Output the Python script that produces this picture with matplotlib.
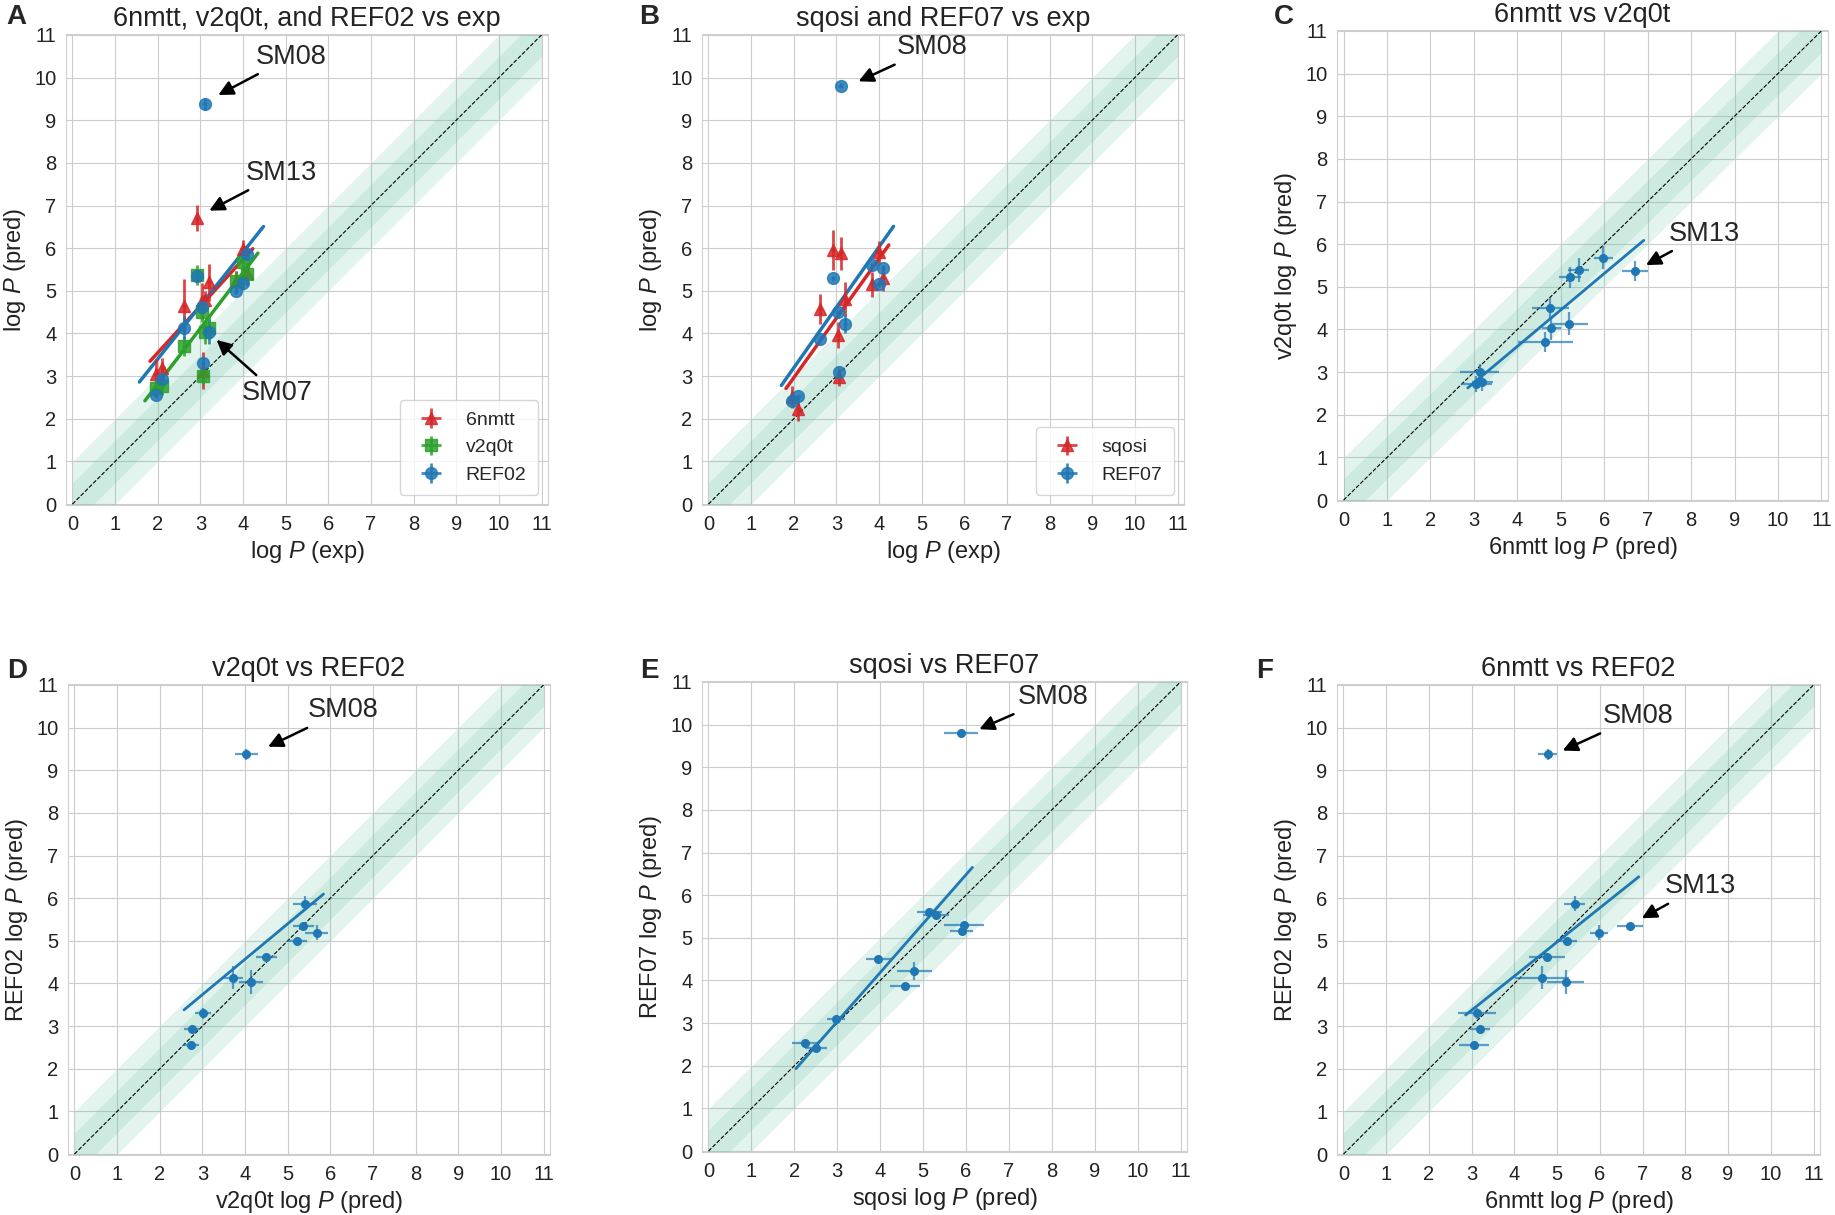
import numpy as np
import matplotlib.pyplot as plt
import seaborn as sns

sns.set_style('whitegrid')
plt.rcParams['font.family'] = ['Liberation Sans', 'DejaVu Sans']
plt.rcParams['mathtext.fontset'] = 'custom'
plt.rcParams['mathtext.rm'] = 'Liberation Sans'
plt.rcParams['mathtext.it'] = 'Liberation Sans:italic'

# 11 compounds, sorted by experimental log P
exp_logp = [1.95, 2.11, 2.62, 2.92, 3.03, 3.07, 3.10, 3.21, 3.84, 3.99, 4.10]
exp_err = [0.05, 0.05, 0.05, 0.05, 0.05, 0.05, 0.05, 0.05, 0.05, 0.05, 0.05]

nmtt = [3.06, 3.19, 4.64, 6.71, 4.76, 3.13, 4.78, 5.20, 5.22, 5.98, 5.41]
nmtt_err = [0.35, 0.24, 0.63, 0.30, 0.42, 0.44, 0.22, 0.43, 0.25, 0.22, 0.25]
v2q0t = [2.73, 2.76, 3.71, 5.37, 4.50, 3.01, 4.03, 4.14, 5.22, 5.68, 5.40]
v2q0t_err = [0.19, 0.19, 0.24, 0.24, 0.24, 0.19, 0.27, 0.27, 0.24, 0.27, 0.28]
ref02 = [2.56, 2.94, 4.14, 5.34, 4.63, 3.30, 9.37, 4.04, 4.99, 5.19, 5.87]
ref02_err = [0.08, 0.06, 0.28, 0.06, 0.06, 0.13, 0.12, 0.28, 0.06, 0.18, 0.18]
sqosi = [2.51, 2.24, 4.58, 5.95, 3.96, 2.98, 5.88, 4.80, 5.15, 5.90, 5.30]
sqosi_err = [0.25, 0.29, 0.35, 0.47, 0.30, 0.21, 0.39, 0.40, 0.29, 0.27, 0.30]
ref07 = [2.42, 2.53, 3.88, 5.29, 4.51, 3.10, 9.81, 4.22, 5.60, 5.15, 5.54]
ref07_err = [0.05, 0.05, 0.05, 0.05, 0.05, 0.05, 0.05, 0.21, 0.05, 0.05, 0.05]

RED, GREEN, BLUE = '#d62728', '#2ca02c', '#1f77b4'
BAND = '#66c2a5'
W, H = 1835, 1215

fig = plt.figure(figsize=(W / 100, H / 100), dpi=100)


def make_ax(left, top, w=482, h=471):
    return fig.add_axes([left / W, 1 - (top + h) / H, w / W, h / H])


def base(ax, title, xlabel, ylabel):
    d = np.array([0, 11])
    ax.fill_between(d, d - 1, d + 1, color=BAND, alpha=0.18, lw=0, zorder=1)
    ax.fill_between(d, d - 0.5, d + 0.5, color=BAND, alpha=0.18, lw=0, zorder=1)
    ax.plot(d, d, color='black', ls='--', lw=0.8, zorder=2)
    ax.set_xlim(-0.15, 11.15)
    ax.set_ylim(-0.02, 11.02)
    ax.set_xticks(range(12))
    ax.set_yticks(range(12))
    ax.tick_params(labelsize=14.5, colors='#222222')
    ax.set_title(title, fontsize=19.5, color='#222222')
    ax.set_xlabel(xlabel, fontsize=17, color='#222222')
    ax.set_ylabel(ylabel, fontsize=17, color='#222222')
    for s in ax.spines.values():
        s.set_color('#d0d0d0')


def fit_line(ax, x, y, color, pad, lw=2.5):
    slope, icpt = np.polyfit(x, y, 1)
    xx = np.array([min(x) - pad, max(x) + pad])
    ax.plot(xx, slope * xx + icpt, color=color, lw=lw, zorder=3)


def mark(ax, text, tip, txt):
    ax.annotate(text, xy=tip, xytext=txt, fontsize=19.5, ha='center', va='center',
                arrowprops=dict(arrowstyle='-|>', color='black', lw=1.8,
                                mutation_scale=22, shrinkA=2, shrinkB=0), zorder=6)


def vs_exp(ax, y, yerr, color, marker, label):
    ax.errorbar(exp_logp, y, xerr=exp_err, yerr=yerr, fmt=marker, color=color,
                ms=8.5, elinewidth=2, capsize=0, alpha=0.85, label=label, zorder=4)


def pair(ax, x, xerr, y, yerr, pad):
    eb = ax.errorbar(x, y, xerr=xerr, yerr=yerr, fmt='o', color=BLUE, ms=5.5,
                     elinewidth=1.6, capsize=0, zorder=4)
    for c in eb[2]:
        c.set_alpha(0.7)
    fit_line(ax, x, y, BLUE, pad, lw=2)


lbl_exp = r'log $P$ (exp)'
lbl_pred = r'log $P$ (pred)'

# A
ax = make_ax(66, 34)
base(ax, '6nmtt, v2q0t, and REF02 vs exp', lbl_exp, lbl_pred)
vs_exp(ax, nmtt, nmtt_err, RED, '^', '6nmtt')
vs_exp(ax, v2q0t, v2q0t_err, GREEN, 's', 'v2q0t')
vs_exp(ax, ref02, ref02_err, BLUE, 'o', 'REF02')
fit_line(ax, exp_logp, nmtt, RED, 0.13)
fit_line(ax, exp_logp, v2q0t, GREEN, 0.25)
fit_line(ax, exp_logp, ref02, BLUE, 0.38)
mark(ax, 'SM08', (3.42, 9.59), (5.13, 10.49))
mark(ax, 'SM13', (3.21, 6.88), (4.91, 7.77))
mark(ax, 'SM07', (3.38, 3.85), (4.79, 2.60))
ax.legend(loc='lower right', fontsize=14, frameon=True, borderpad=0.6)

# B
ax = make_ax(702, 34)
base(ax, 'sqosi and REF07 vs exp', lbl_exp, lbl_pred)
vs_exp(ax, sqosi, sqosi_err, RED, '^', 'sqosi')
vs_exp(ax, ref07, ref07_err, BLUE, 'o', 'REF07')
fit_line(ax, exp_logp, sqosi, RED, 0.13)
fit_line(ax, exp_logp, ref07, BLUE, 0.24)
mark(ax, 'SM08', (3.52, 9.91), (5.25, 10.71))
ax.legend(loc='lower right', fontsize=14, frameon=True, borderpad=0.6)

# C
ax = make_ax(1337, 30, w=491)
base(ax, '6nmtt vs v2q0t', r'6nmtt log $P$ (pred)', r'v2q0t log $P$ (pred)')
pair(ax, nmtt, nmtt_err, v2q0t, v2q0t_err, 0.2)
mark(ax, 'SM13', (6.96, 5.51), (8.31, 6.25))

# D
ax = make_ax(68, 684)
base(ax, 'v2q0t vs REF02', r'v2q0t log $P$ (pred)', r'REF02 log $P$ (pred)')
pair(ax, v2q0t, v2q0t_err, ref02, ref02_err, 0.16)
mark(ax, 'SM08', (4.54, 9.55), (6.31, 10.40))

# E
ax = make_ax(702, 681, w=485)
base(ax, 'sqosi vs REF07', r'sqosi log $P$ (pred)', r'REF07 log $P$ (pred)')
pair(ax, sqosi, sqosi_err, ref07, ref07_err, 0.2)
mark(ax, 'SM08', (6.31, 9.89), (8.03, 10.65))

# F
ax = make_ax(1337, 684, w=483)
base(ax, '6nmtt vs REF02', r'6nmtt log $P$ (pred)', r'REF02 log $P$ (pred)')
pair(ax, nmtt, nmtt_err, ref02, ref02_err, 0.2)
mark(ax, 'SM08', (5.13, 9.46), (6.90, 10.27))
mark(ax, 'SM13', (6.98, 5.53), (8.35, 6.28))

for letter, (px, py) in zip('ABCDEF', [(16, 17), (649, 17), (1284, 17),
                                       (17, 671), (649, 671), (1265, 671)]):
    fig.text(px / W, 1 - py / H, letter, fontsize=20, fontweight='bold',
             ha='center', va='center')

fig.savefig('out.png', dpi=100)
